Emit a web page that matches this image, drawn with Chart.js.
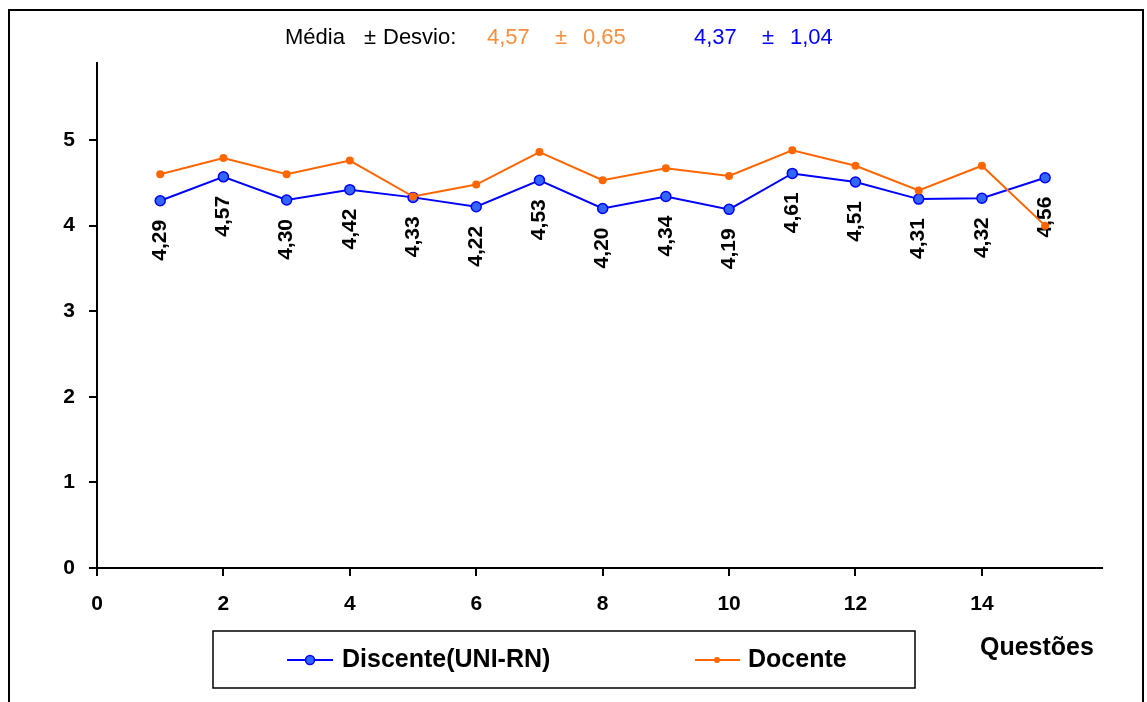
<!DOCTYPE html>
<html lang="pt-br">
<head>
    <meta charset="UTF-8">
    <title>Média por Questão</title>
    <script src="https://cdn.jsdelivr.net/npm/chart.js"></script>
    <style>
        body {
            margin: 0;
            padding: 0;
            background-color: #ffffff;
        }
        #grafico {
            display: block;
        }
    </style>
</head>
<body>

    <canvas id="grafico" width="1147" height="702"></canvas>

    <script>
        // dados
        const questoes = [1, 2, 3, 4, 5, 6, 7, 8, 9, 10, 11, 12, 13, 14, 15];
        const discente = [4.29, 4.57, 4.30, 4.42, 4.33, 4.22, 4.53, 4.20, 4.34, 4.19, 4.61, 4.51, 4.31, 4.32, 4.56];
        const docente = [4.60, 4.79, 4.60, 4.76, 4.34, 4.48, 4.86, 4.53, 4.67, 4.58, 4.88, 4.70, 4.41, 4.70, 4.00];
        const ticksX = [0, 2, 4, 6, 8, 10, 12, 14];
        const ticksY = [0, 1, 2, 3, 4, 5];
        const nomes = ['Discente(UNI-RN)', 'Docente'];
        const resumo = { docente: ['4,57', '0,65'], discente: ['4,37', '1,04'] };

        const AZUL = '#0000FF';
        const AZUL_PONTO = '#3366FF';
        const LARANJA = '#FF6600';
        const LARANJA_TEXTO = '#F98E3C';
        const FONTE = '"Liberation Sans", Arial, sans-serif';

        const fmt = v => v.toFixed(2).replace('.', ',');

        // rótulos verticais dos valores do discente
        const rotulos = {
            id: 'rotulos',
            afterDatasetDraw(chart, args) {
                if (args.index !== 0) return;
                const ctx = chart.ctx;
                const meta = chart.getDatasetMeta(0);
                ctx.save();
                ctx.font = 'bold 21px ' + FONTE;
                ctx.fillStyle = '#000';
                ctx.textAlign = 'right';
                ctx.textBaseline = 'middle';
                meta.data.forEach((pt, i) => {
                    ctx.save();
                    ctx.translate(pt.x, pt.y + 19);
                    ctx.rotate(-Math.PI / 2);
                    ctx.fillText(fmt(discente[i]), 0, 0);
                    ctx.restore();
                });
                ctx.restore();
            }
        };

        // moldura, texto de média, legenda e título do eixo
        const extras = {
            id: 'extras',
            afterDraw(chart) {
                const ctx = chart.ctx;
                ctx.save();

                ctx.strokeStyle = '#000';
                ctx.lineWidth = 2;
                ctx.beginPath();
                ctx.moveTo(9, 702);
                ctx.lineTo(9, 10);
                ctx.lineTo(1143, 10);
                ctx.lineTo(1143, 702);
                ctx.stroke();

                ctx.font = '22px ' + FONTE;
                ctx.textBaseline = 'middle';
                ctx.textAlign = 'left';
                const y = 38;
                ctx.fillStyle = '#000';
                ctx.fillText('Média', 285, y);
                ctx.fillText('±', 364, y);
                ctx.fillText('Desvio:', 383, y);
                ctx.fillStyle = LARANJA_TEXTO;
                ctx.fillText(resumo.docente[0], 487, y);
                ctx.fillText('±', 555, y);
                ctx.fillText(resumo.docente[1], 583, y);
                ctx.fillStyle = AZUL;
                ctx.fillText(resumo.discente[0], 694, y);
                ctx.fillText('±', 762, y);
                ctx.fillText(resumo.discente[1], 790, y);

                // legenda
                ctx.lineWidth = 1.5;
                ctx.strokeStyle = '#000';
                ctx.strokeRect(213, 631, 702, 57);

                const ly = 660;
                ctx.lineWidth = 2;
                ctx.strokeStyle = AZUL;
                ctx.beginPath();
                ctx.moveTo(287, ly);
                ctx.lineTo(333, ly);
                ctx.stroke();
                ctx.fillStyle = AZUL_PONTO;
                ctx.beginPath();
                ctx.arc(310, ly, 4.5, 0, Math.PI * 2);
                ctx.fill();
                ctx.lineWidth = 1.5;
                ctx.stroke();

                ctx.lineWidth = 2;
                ctx.strokeStyle = LARANJA;
                ctx.beginPath();
                ctx.moveTo(695, ly);
                ctx.lineTo(740, ly);
                ctx.stroke();
                ctx.fillStyle = LARANJA;
                ctx.beginPath();
                ctx.arc(717, ly, 3, 0, Math.PI * 2);
                ctx.fill();

                ctx.fillStyle = '#000';
                ctx.font = 'bold 25px ' + FONTE;
                ctx.fillText(nomes[0], 342, ly);
                ctx.fillText(nomes[1], 748, ly);

                ctx.font = 'bold 25px ' + FONTE;
                ctx.fillText('Questões', 980, 648);

                ctx.restore();
            }
        };

        const eixoComum = {
            border: { color: '#000', width: 2 },
            grid: { drawOnChartArea: false, drawTicks: true, tickLength: 8, color: '#000', lineWidth: 2 },
        };

        new Chart(document.getElementById('grafico').getContext('2d'), {
            type: 'line',
            data: {
                datasets: [
                    {
                        label: nomes[0],
                        data: questoes.map((q, i) => ({ x: q, y: discente[i] })),
                        borderColor: AZUL,
                        backgroundColor: AZUL_PONTO,
                        pointBackgroundColor: AZUL_PONTO,
                        pointBorderColor: AZUL,
                        pointBorderWidth: 1.5,
                        pointRadius: 5,
                        borderWidth: 2,
                        tension: 0,
                        order: 2
                    },
                    {
                        label: nomes[1],
                        data: questoes.map((q, i) => ({ x: q, y: docente[i] })),
                        borderColor: LARANJA,
                        backgroundColor: LARANJA,
                        pointBackgroundColor: LARANJA,
                        pointBorderColor: LARANJA,
                        pointRadius: 3,
                        borderWidth: 2,
                        tension: 0,
                        order: 1
                    }
                ]
            },
            options: {
                responsive: false,
                devicePixelRatio: 1,
                animation: false,
                layout: { padding: { left: 37, top: 63, right: 45, bottom: 84 } },
                plugins: {
                    legend: { display: false },
                    tooltip: { enabled: false }
                },
                scales: {
                    x: {
                        type: 'linear',
                        min: 0,
                        max: 15.9,
                        ...eixoComum,
                        afterBuildTicks: s => { s.ticks = ticksX.map(v => ({ value: v })); },
                        afterFit: s => { s.height = 50; },
                        ticks: {
                            color: '#000',
                            padding: 16,
                            font: { family: FONTE, size: 21, weight: 'bold' },
                            callback: v => v
                        }
                    },
                    y: {
                        min: 0,
                        max: 5.9,
                        ...eixoComum,
                        afterBuildTicks: s => { s.ticks = ticksY.map(v => ({ value: v })); },
                        afterFit: s => { s.width = 60; },
                        ticks: {
                            color: '#000',
                            padding: 14,
                            font: { family: FONTE, size: 21, weight: 'bold' },
                            callback: v => v
                        }
                    }
                }
            },
            plugins: [rotulos, extras]
        });
    </script>

</body>
</html>
